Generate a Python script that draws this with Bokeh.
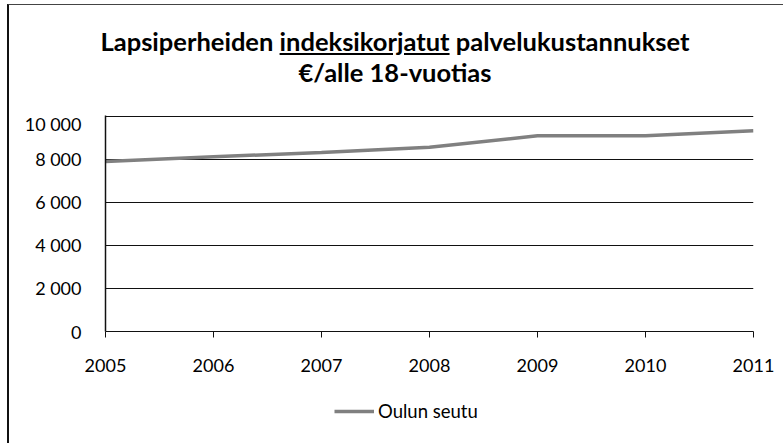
from bokeh.plotting import figure
from bokeh.models import Range1d, Legend, LegendItem, FixedTicker, Div
from bokeh.layouts import column
from bokeh.embed import file_html
from bokeh.resources import INLINE

years = [2005, 2006, 2007, 2008, 2009, 2010, 2011]
oulun_seutu = [7900, 8120, 8320, 8560, 9100, 9100, 9330]
y_ticks = [0, 2000, 4000, 6000, 8000, 10000]
y_tick_labels = ["0", "2 000", "4 000", "6 000", "8 000", "10 000"]
title_parts = ["Lapsiperheiden", "indeksikorjatut", "palvelukustannukset"]
title_line2 = "€/alle 18-vuotias"
series_name = "Oulun seutu"

FONT = "Lato"
W = 774
LINE_COLOR = "#808080"
LINE_WIDTH = 3.5

title_html = (
    f'<div style="width:{W - 2}px;text-align:center;font-family:{FONT};font-weight:bold;'
    f'font-size:25.5px;line-height:31px;color:#000;padding-top:21px;">'
    f'{title_parts[0]} <u>{title_parts[1]}</u> {title_parts[2]}<br>{title_line2}</div>'
)
title_div = Div(text=title_html, width=W, height=107, margin=0)

p = figure(width=W, height=273, output_backend="svg", toolbar_location=None,
           x_range=Range1d(years[0], years[-1]), y_range=Range1d(0, 10040),
           min_border_left=96, min_border_right=30, min_border_top=3, min_border_bottom=54,
           margin=0)
p.outline_line_color = None
p.background_fill_color = "white"
p.border_fill_color = "white"

p.xgrid.grid_line_color = None
p.ygrid.grid_line_color = "#111111"
p.ygrid.grid_line_width = 1
p.ygrid.ticker = FixedTicker(ticks=y_ticks)

p.xaxis.ticker = FixedTicker(ticks=years)
p.xaxis.axis_line_color = "#111111"
p.xaxis.major_tick_line_color = "#111111"
p.xaxis.major_tick_out = 6
p.xaxis.major_tick_in = 0
p.xaxis.minor_tick_line_color = None
p.xaxis.major_label_standoff = 21
p.xaxis.major_label_text_font = FONT
p.xaxis.major_label_text_font_size = "18px"
p.xaxis.major_label_text_color = "black"

p.yaxis.ticker = FixedTicker(ticks=y_ticks)
p.yaxis.major_label_overrides = {t: l for t, l in zip(y_ticks, y_tick_labels)}
p.yaxis.axis_line_color = "#111111"
p.yaxis.axis_line_width = 1.5
p.yaxis.major_tick_line_color = None
p.yaxis.minor_tick_line_color = None
p.yaxis.major_label_standoff = 18
p.yaxis.major_label_text_font = FONT
p.yaxis.major_label_text_font_size = "18px"
p.yaxis.major_label_text_color = "black"

p.line(years, oulun_seutu, line_color=LINE_COLOR, line_width=LINE_WIDTH)

# legend strip below the chart: same series, drawn outside this strip's view,
# only used to show its legend entry
lg = figure(width=W, height=58, output_backend="svg", toolbar_location=None,
            x_range=Range1d(0, 1), y_range=Range1d(0, 1),
            x_axis_location=None, y_axis_location=None,
            min_border=0, margin=0)
lg.grid.visible = False
lg.outline_line_color = None
lg.background_fill_color = "white"
lg.border_fill_color = "white"
lr = lg.line(years, oulun_seutu, line_color=LINE_COLOR, line_width=LINE_WIDTH)
legend = Legend(items=[LegendItem(label=series_name, renderers=[lr])],
                location=(229, 21), orientation="horizontal",
                label_text_font=FONT, label_text_font_size="18.5px",
                label_text_color="black",
                glyph_width=40, glyph_height=20, padding=0, margin=0, spacing=0,
                label_standoff=4,
                background_fill_alpha=0, border_line_color=None)
lg.add_layout(legend, "center")

layout = column(title_div, p, lg, spacing=0,
                styles={"margin-left": "7px", "margin-top": "4px",
                        "border-left": "2px solid #111", "border-top": "1px solid #444"})

open("out.html", "w").write(file_html(layout, INLINE))
